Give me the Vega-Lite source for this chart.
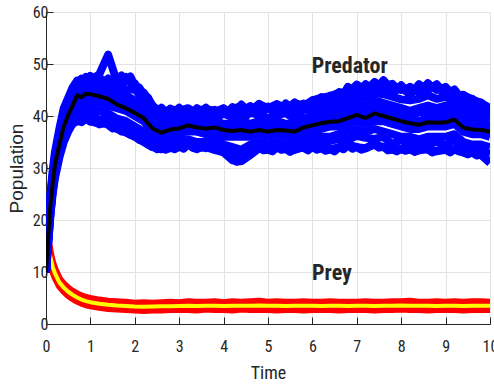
{
  "$schema": "https://vega.github.io/schema/vega-lite/v6.json",
  "width": 444,
  "height": 312,
  "autosize": {"type": "none"},
  "padding": {"left": 46, "top": 12, "right": 4, "bottom": 60},
  "background": "white",
  "datasets": {
    "runs": [
      {"t":0,"m":10,"p1":10,"p2":10,"p3":10,"p4":10,"p5":10,"p6":10,"p7":10,"p8":10,"p9":10,"p10":10,"p11":10,"q":20,"r1":20,"r2":20,"r3":20},
      {"t":0.05,"m":17,"p1":18.5,"p2":18,"p3":17.5,"p4":17,"p5":16.5,"p6":16,"p7":15.5,"p8":17.8,"p9":17.2,"p10":16.7,"p11":15.7,"q":15.5,"r1":16.2,"r2":15.5,"r3":14.8},
      {"t":0.1,"m":23,"p1":25,"p2":24.5,"p3":23.5,"p4":23,"p5":22.5,"p6":21.5,"p7":21,"p8":24,"p9":23.2,"p10":22.8,"p11":21.2,"q":12.8,"r1":13.6,"r2":12.8,"r3":12.0},
      {"t":0.15,"m":27,"p1":29.5,"p2":28.5,"p3":28,"p4":27,"p5":26.5,"p6":26,"p7":25,"p8":28.2,"p9":27.5,"p10":26.8,"p11":25.5,"q":11,"r1":11.8,"r2":11,"r3":10.2},
      {"t":0.2,"m":30.5,"p1":33,"p2":32,"p3":31.5,"p4":30.5,"p5":30,"p6":29,"p7":28,"p8":31.8,"p9":31,"p10":30.2,"p11":28.5,"q":9.8,"r1":10.6,"r2":9.8,"r3":9.0},
      {"t":0.3,"m":34.5,"p1":37.5,"p2":36.5,"p3":35.5,"p4":34.5,"p5":34,"p6":33,"p7":32,"p8":36,"p9":35,"p10":34.2,"p11":32.5,"q":8,"r1":8.7,"r2":8.0,"r3":7.3},
      {"t":0.4,"m":38,"p1":41.5,"p2":40.5,"p3":39,"p4":38,"p5":37.5,"p6":36.5,"p7":35,"p8":39.8,"p9":38.5,"p10":37.7,"p11":35.8,"q":7,"r1":7.7,"r2":7.0,"r3":6.3},
      {"t":0.5,"m":40.2,"p1":43.5,"p2":42.5,"p3":41.5,"p4":40.5,"p5":39.5,"p6":38.5,"p7":37,"p8":42,"p9":41,"p10":40,"p11":37.7,"q":6.2,"r1":6.9,"r2":6.2,"r3":5.5},
      {"t":0.6,"m":42,"p1":45.5,"p2":44.5,"p3":43,"p4":42,"p5":41,"p6":40,"p7":38.5,"p8":43.8,"p9":42.5,"p10":41.5,"p11":39.2,"q":5.6,"r1":6.3,"r2":5.6,"r3":4.9},
      {"t":0.7,"m":44,"p1":46.8,"p2":45.5,"p3":44.5,"p4":43.5,"p5":42,"p6":40.5,"p7":39,"p8":45.6,"p9":43.5,"p10":43.2,"p11":39.4,"q":5.1,"r1":5.8,"r2":5.1,"r3":4.4},
      {"t":0.8,"m":43.6,"p1":46,"p2":47,"p3":45,"p4":44,"p5":42.5,"p6":41.5,"p7":39,"p8":45.5,"p9":44.8,"p10":43,"p11":40.5,"q":4.7,"r1":5.4,"r2":4.7,"r3":4.0},
      {"t":0.9,"m":44.3,"p1":47.5,"p2":46,"p3":45.5,"p4":44.5,"p5":43,"p6":42,"p7":39.5,"p8":46.3,"p9":44.5,"p10":44.2,"p11":40.5,"q":4.4,"r1":5.1,"r2":4.4,"r3":3.7},
      {"t":1.0,"m":44.2,"p1":47,"p2":47.7,"p3":46,"p4":44.5,"p5":43,"p6":41.5,"p7":39,"p8":46.5,"p9":45.6,"p10":43.4,"p11":40.6,"q":4.2,"r1":4.9,"r2":4.2,"r3":3.5},
      {"t":1.2,"m":43.8,"p1":48,"p2":46.5,"p3":45,"p4":43.5,"p5":42.5,"p6":41,"p7":38.5,"p8":46.2,"p9":43.8,"p10":43.3,"p11":39.2,"q":3.9,"r1":4.6,"r2":3.9,"r3":3.2},
      {"t":1.4,"m":43.3,"p1":51.8,"p2":47,"p3":45.5,"p4":44,"p5":42,"p6":40.5,"p7":38.5,"p8":45.8,"p9":45.2,"p10":42.5,"p11":39.8,"q":3.7,"r1":4.4,"r2":3.7,"r3":3.0},
      {"t":1.6,"m":42.2,"p1":46.5,"p2":45.5,"p3":44,"p4":43,"p5":41.5,"p6":39.5,"p7":37.5,"p8":45.3,"p9":43,"p10":42.6,"p11":38.2,"q":3.55,"r1":4.3,"r2":3.6,"r3":2.9},
      {"t":1.8,"m":41.5,"p1":47.5,"p2":46.8,"p3":44,"p4":42.5,"p5":41,"p6":39,"p7":36.8,"p8":45,"p9":43.6,"p10":41.3,"p11":38.3,"q":3.45,"r1":4.2,"r2":3.4,"r3":2.8},
      {"t":2.0,"m":40.6,"p1":45.5,"p2":46.3,"p3":43,"p4":41.5,"p5":40,"p6":38,"p7":36,"p8":45.2,"p9":41.8,"p10":41.2,"p11":36.5,"q":3.35,"r1":4.0,"r2":3.4,"r3":2.7},
      {"t":2.2,"m":39.6,"p1":44.5,"p2":43,"p3":42,"p4":40.5,"p5":39,"p6":37,"p7":35,"p8":43,"p9":41.6,"p10":39.3,"p11":36.4,"q":3.3,"r1":4.1,"r2":3.3,"r3":2.6},
      {"t":2.4,"m":37.6,"p1":42,"p2":41,"p3":39.5,"p4":38,"p5":37,"p6":35.5,"p7":34,"p8":40.8,"p9":38.3,"p10":37.9,"p11":34.3,"q":3.35,"r1":4.0,"r2":3.4,"r3":2.7},
      {"t":2.6,"m":36.8,"p1":40.5,"p2":41,"p3":38.5,"p4":37.5,"p5":36,"p6":35,"p7":33.6,"p8":39.2,"p9":38.4,"p10":36.3,"p11":34.8,"q":3.4,"r1":4.1,"r2":3.3,"r3":2.7},
      {"t":2.8,"m":37.4,"p1":41.3,"p2":40,"p3":39,"p4":37.5,"p5":36.5,"p6":35,"p7":33.8,"p8":40.1,"p9":37.8,"p10":37.3,"p11":34,"q":3.4,"r1":4.2,"r2":3.4,"r3":2.8},
      {"t":3.0,"m":37.6,"p1":41,"p2":40.5,"p3":39,"p4":38,"p5":36.8,"p6":35.5,"p7":34,"p8":39.3,"p9":38.9,"p10":36.9,"p11":35.2,"q":3.45,"r1":4.1,"r2":3.5,"r3":2.8},
      {"t":3.2,"m":38.2,"p1":41.5,"p2":40.3,"p3":39.5,"p4":38.5,"p5":37,"p6":35.5,"p7":34.5,"p8":40.4,"p9":38.4,"p10":38.2,"p11":34.6,"q":3.5,"r1":4.3,"r2":3.4,"r3":2.8},
      {"t":3.4,"m":37.8,"p1":40.5,"p2":41.3,"p3":39,"p4":38,"p5":37,"p6":35,"p7":33.8,"p8":39.6,"p9":38.9,"p10":37,"p11":34.9,"q":3.45,"r1":4.2,"r2":3.5,"r3":2.7},
      {"t":3.6,"m":37.6,"p1":41.3,"p2":40,"p3":38.5,"p4":37.5,"p5":36.5,"p6":35,"p7":34,"p8":39.8,"p9":37.5,"p10":37.5,"p11":34,"q":3.5,"r1":4.2,"r2":3.5,"r3":2.9},
      {"t":3.8,"m":37.8,"p1":41,"p2":40.8,"p3":39,"p4":38,"p5":37,"p6":35.5,"p7":33.5,"p8":39.4,"p9":38.9,"p10":37.2,"p11":34.8,"q":3.5,"r1":4.3,"r2":3.4,"r3":2.8},
      {"t":4.0,"m":37.3,"p1":40.5,"p2":41.5,"p3":38.5,"p4":37.5,"p5":36,"p6":34.5,"p7":33,"p8":40.5,"p9":37.6,"p10":37.3,"p11":33.3,"q":3.45,"r1":4.1,"r2":3.5,"r3":2.8},
      {"t":4.2,"m":37.1,"p1":41.3,"p2":40,"p3":38.5,"p4":37.5,"p5":36,"p6":34,"p7":31.5,"p8":39.7,"p9":38.3,"p10":36.2,"p11":33.2,"q":3.5,"r1":4.3,"r2":3.5,"r3":2.7},
      {"t":4.4,"m":37.3,"p1":42,"p2":40.5,"p3":39,"p4":37.5,"p5":36,"p6":33.5,"p7":31.3,"p8":39.3,"p9":38.6,"p10":37.2,"p11":32.2,"q":3.5,"r1":4.2,"r2":3.5,"r3":2.9},
      {"t":4.6,"m":37.0,"p1":41,"p2":41.8,"p3":38.5,"p4":37,"p5":36,"p6":34.5,"p7":32.5,"p8":40.6,"p9":37.2,"p10":36.8,"p11":33.8,"q":3.5,"r1":4.3,"r2":3.4,"r3":2.8},
      {"t":4.8,"m":37.3,"p1":42.3,"p2":40.5,"p3":39,"p4":37.5,"p5":36.5,"p6":35,"p7":33.8,"p8":40.2,"p9":37.9,"p10":37.4,"p11":34,"q":3.55,"r1":4.4,"r2":3.5,"r3":2.8},
      {"t":5.0,"m":37.0,"p1":41.5,"p2":41.5,"p3":38.5,"p4":37,"p5":36,"p6":34.5,"p7":33.5,"p8":39.6,"p9":38.1,"p10":36.2,"p11":34.3,"q":3.5,"r1":4.2,"r2":3.5,"r3":2.8},
      {"t":5.2,"m":37.3,"p1":42.3,"p2":40.5,"p3":39,"p4":37.5,"p5":36.5,"p6":35,"p7":34,"p8":40.1,"p9":37.8,"p10":37.3,"p11":34.2,"q":3.5,"r1":4.3,"r2":3.5,"r3":2.7},
      {"t":5.4,"m":37.2,"p1":41.5,"p2":42,"p3":38.5,"p4":37.5,"p5":36,"p6":34.5,"p7":33.6,"p8":40.6,"p9":38.3,"p10":36.4,"p11":33.8,"q":3.45,"r1":4.2,"r2":3.4,"r3":2.8},
      {"t":5.6,"m":37.0,"p1":42.5,"p2":41,"p3":38.5,"p4":37,"p5":36,"p6":35,"p7":33.5,"p8":39.4,"p9":38.1,"p10":36.8,"p11":34.6,"q":3.5,"r1":4.2,"r2":3.5,"r3":2.8},
      {"t":5.8,"m":37.8,"p1":42,"p2":42.3,"p3":39.5,"p4":38,"p5":37,"p6":35.5,"p7":34,"p8":41.3,"p9":38.4,"p10":37.7,"p11":34.4,"q":3.5,"r1":4.3,"r2":3.5,"r3":2.7},
      {"t":6.0,"m":38.2,"p1":43,"p2":41.5,"p3":40,"p4":38.5,"p5":37,"p6":36,"p7":34,"p8":41,"p9":39.5,"p10":37.5,"p11":35.3,"q":3.5,"r1":4.2,"r2":3.5,"r3":2.8},
      {"t":6.2,"m":38.6,"p1":43.5,"p2":42.5,"p3":40.5,"p4":39,"p5":37.5,"p6":36,"p7":33.8,"p8":41.2,"p9":40,"p10":38,"p11":34.6,"q":3.45,"r1":4.2,"r2":3.4,"r3":2.8},
      {"t":6.4,"m":38.9,"p1":43.8,"p2":43,"p3":41,"p4":39.5,"p5":38,"p6":36,"p7":33.6,"p8":42.3,"p9":40,"p10":38.9,"p11":35.2,"q":3.5,"r1":4.3,"r2":3.5,"r3":2.8},
      {"t":6.6,"m":39.0,"p1":44.5,"p2":43,"p3":41.5,"p4":39.5,"p5":38,"p6":36.5,"p7":34,"p8":41.9,"p9":41,"p10":38.4,"p11":35.6,"q":3.5,"r1":4.2,"r2":3.5,"r3":2.7},
      {"t":6.8,"m":39.6,"p1":44.5,"p2":45.5,"p3":42,"p4":40,"p5":38.5,"p6":37,"p7":34.5,"p8":43.5,"p9":40.5,"p10":39.6,"p11":35.4,"q":3.45,"r1":4.2,"r2":3.4,"r3":2.8},
      {"t":7.0,"m":40.2,"p1":46,"p2":44.5,"p3":42.5,"p4":40.5,"p5":39,"p6":37.5,"p7":34,"p8":43.8,"p9":41.2,"p10":39.5,"p11":36.2,"q":3.5,"r1":4.2,"r2":3.5,"r3":2.8},
      {"t":7.2,"m":39.6,"p1":45,"p2":46,"p3":42,"p4":40,"p5":38.5,"p6":37,"p7":33.8,"p8":43.6,"p9":41.4,"p10":38.8,"p11":35.8,"q":3.5,"r1":4.3,"r2":3.5,"r3":2.8},
      {"t":7.4,"m":40.5,"p1":46.5,"p2":45,"p3":43,"p4":41,"p5":39,"p6":37.5,"p7":34.5,"p8":44.4,"p9":41.6,"p10":40.3,"p11":35.6,"q":3.45,"r1":4.2,"r2":3.4,"r3":2.7},
      {"t":7.6,"m":40.0,"p1":45.5,"p2":46.8,"p3":42.5,"p4":40.5,"p5":39,"p6":37,"p7":34,"p8":44.2,"p9":41.9,"p10":39.2,"p11":36,"q":3.5,"r1":4.2,"r2":3.5,"r3":2.8},
      {"t":7.8,"m":39.5,"p1":46,"p2":44.5,"p3":42,"p4":40,"p5":38.5,"p6":36.5,"p7":33.5,"p8":43.7,"p9":40.6,"p10":39.6,"p11":34.6,"q":3.5,"r1":4.3,"r2":3.5,"r3":2.8},
      {"t":8.0,"m":39.0,"p1":45,"p2":45.8,"p3":41.5,"p4":39.5,"p5":38,"p6":36,"p7":33.6,"p8":43.2,"p9":41,"p10":38.3,"p11":35.4,"q":3.55,"r1":4.3,"r2":3.5,"r3":2.9},
      {"t":8.2,"m":38.6,"p1":45.5,"p2":44,"p3":41,"p4":39,"p5":37.5,"p6":36,"p7":33.5,"p8":43,"p9":39.6,"p10":38.6,"p11":34.3,"q":3.5,"r1":4.4,"r2":3.5,"r3":2.8},
      {"t":8.4,"m":38.3,"p1":44.5,"p2":46,"p3":41.5,"p4":39,"p5":37.5,"p6":35.5,"p7":33.4,"p8":43.3,"p9":40.8,"p10":37.8,"p11":35,"q":3.5,"r1":4.2,"r2":3.5,"r3":2.8},
      {"t":8.6,"m":38.8,"p1":46.2,"p2":45,"p3":42,"p4":39.5,"p5":38,"p6":36,"p7":33.6,"p8":44,"p9":40.3,"p10":39.2,"p11":34.4,"q":3.5,"r1":4.2,"r2":3.5,"r3":2.7},
      {"t":8.8,"m":38.7,"p1":45,"p2":46,"p3":41.5,"p4":39.5,"p5":38,"p6":36,"p7":33.2,"p8":43.3,"p9":41,"p10":38.3,"p11":35.1,"q":3.45,"r1":4.3,"r2":3.4,"r3":2.8},
      {"t":9.0,"m":38.8,"p1":45.5,"p2":44.5,"p3":42,"p4":40,"p5":38,"p6":36,"p7":33.5,"p8":43.7,"p9":40.5,"p10":39.4,"p11":34.3,"q":3.5,"r1":4.2,"r2":3.5,"r3":2.8},
      {"t":9.2,"m":39.3,"p1":44,"p2":45,"p3":42.5,"p4":40,"p5":38.5,"p6":36.5,"p7":33.6,"p8":43.3,"p9":41.8,"p10":38.8,"p11":35.5,"q":3.5,"r1":4.3,"r2":3.5,"r3":2.8},
      {"t":9.4,"m":37.8,"p1":44,"p2":43,"p3":41,"p4":38.5,"p5":37,"p6":35,"p7":33,"p8":42.5,"p9":39.3,"p10":38.2,"p11":33.6,"q":3.45,"r1":4.2,"r2":3.4,"r3":2.7},
      {"t":9.6,"m":37.4,"p1":43.2,"p2":42.5,"p3":40.5,"p4":38,"p5":36.5,"p6":34.5,"p7":33,"p8":41.1,"p9":39.7,"p10":36.8,"p11":34.2,"q":3.5,"r1":4.3,"r2":3.5,"r3":2.8},
      {"t":9.8,"m":37.3,"p1":42.5,"p2":41.5,"p3":40,"p4":38,"p5":36.5,"p6":34.5,"p7":32.5,"p8":41.2,"p9":38.6,"p10":37.6,"p11":33.1,"q":3.5,"r1":4.3,"r2":3.5,"r3":2.8},
      {"t":10.0,"m":37.0,"p1":41.5,"p2":41,"p3":39.5,"p4":37.5,"p5":36,"p6":34,"p7":31,"p8":40,"p9":38.8,"p10":36.2,"p11":32.8,"q":3.5,"r1":4.2,"r2":3.5,"r3":2.8}
    ],
    "edges": [
      {"t":0.7,"u":46.5,"l":39.2},{"t":0.8,"u":47.2,"l":38.8},{"t":0.9,"u":46.4,"l":39.5},{"t":1.0,"u":47.6,"l":38.9},
      {"t":1.1,"u":46.8,"l":39.3},{"t":1.2,"u":47.5,"l":38.4},{"t":1.3,"u":46.5,"l":39.0},{"t":1.4,"u":47.2,"l":38.3},
      {"t":1.5,"u":46.0,"l":37.6},{"t":1.6,"u":46.8,"l":37.9},{"t":1.7,"u":47.8,"l":37.0},{"t":1.8,"u":46.6,"l":37.2},
      {"t":1.9,"u":47.6,"l":36.4},{"t":2.0,"u":45.8,"l":36.2},{"t":2.1,"u":45.5,"l":35.4},{"t":2.2,"u":44.0,"l":35.3},
      {"t":2.3,"u":43.5,"l":34.5},{"t":2.4,"u":41.8,"l":34.3},{"t":2.5,"u":41.0,"l":33.6},{"t":2.6,"u":41.6,"l":34.0},
      {"t":2.7,"u":40.6,"l":33.5},{"t":2.8,"u":41.4,"l":34.1},{"t":2.9,"u":40.8,"l":33.6},{"t":3.0,"u":41.6,"l":34.2},
      {"t":3.1,"u":40.7,"l":33.7},{"t":3.2,"u":41.3,"l":34.6},{"t":3.3,"u":40.4,"l":33.9},{"t":3.4,"u":41.5,"l":33.6},
      {"t":3.5,"u":41.0,"l":34.2},{"t":3.6,"u":41.6,"l":33.8},{"t":3.7,"u":40.8,"l":34.3},{"t":3.8,"u":41.2,"l":33.5},
      {"t":3.9,"u":40.5,"l":33.9},{"t":4.0,"u":41.4,"l":33.1},{"t":4.1,"u":40.9,"l":32.4},{"t":4.2,"u":41.7,"l":31.6},
      {"t":4.3,"u":41.0,"l":31.2},{"t":4.4,"u":42.2,"l":31.4},{"t":4.5,"u":41.3,"l":32.0},{"t":4.6,"u":41.9,"l":32.6},
      {"t":4.7,"u":41.0,"l":33.3},{"t":4.8,"u":42.3,"l":33.9},{"t":4.9,"u":41.4,"l":33.4},{"t":5.0,"u":41.8,"l":33.6},
      {"t":5.1,"u":40.9,"l":33.2},{"t":5.2,"u":42.2,"l":34.0},{"t":5.3,"u":41.5,"l":33.5},{"t":5.4,"u":42.4,"l":33.7},
      {"t":5.5,"u":41.6,"l":33.1},{"t":5.6,"u":42.6,"l":33.6},{"t":5.7,"u":41.8,"l":34.1},{"t":5.8,"u":42.4,"l":33.9},
      {"t":5.9,"u":42.0,"l":33.4},{"t":6.0,"u":43.0,"l":34.1},{"t":6.1,"u":42.5,"l":33.5},{"t":6.2,"u":43.6,"l":33.8},
      {"t":6.3,"u":42.8,"l":33.3},{"t":6.4,"u":43.9,"l":33.6},{"t":6.5,"u":43.5,"l":33.2},{"t":6.6,"u":44.6,"l":34.0},
      {"t":6.7,"u":44.0,"l":33.6},{"t":6.8,"u":45.6,"l":34.4},{"t":6.9,"u":44.8,"l":33.7},{"t":7.0,"u":46.0,"l":34.1},
      {"t":7.1,"u":45.2,"l":33.5},{"t":7.2,"u":46.1,"l":33.8},{"t":7.3,"u":45.4,"l":34.3},{"t":7.4,"u":46.5,"l":34.5},
      {"t":7.5,"u":45.8,"l":33.9},{"t":7.6,"u":46.9,"l":34.1},{"t":7.7,"u":45.9,"l":33.4},{"t":7.8,"u":46.2,"l":33.6},
      {"t":7.9,"u":45.0,"l":33.2},{"t":8.0,"u":45.9,"l":33.7},{"t":8.1,"u":44.8,"l":33.3},{"t":8.2,"u":45.6,"l":33.6},
      {"t":8.3,"u":45.0,"l":33.1},{"t":8.4,"u":46.1,"l":33.4},{"t":8.5,"u":45.4,"l":33.8},{"t":8.6,"u":46.3,"l":33.6},
      {"t":8.7,"u":45.5,"l":33.0},{"t":8.8,"u":46.1,"l":33.3},{"t":8.9,"u":44.9,"l":33.7},{"t":9.0,"u":45.6,"l":33.5},
      {"t":9.1,"u":44.5,"l":33.0},{"t":9.2,"u":45.1,"l":33.6},{"t":9.3,"u":43.9,"l":33.2},{"t":9.4,"u":44.1,"l":33.0},
      {"t":9.5,"u":43.2,"l":32.6},{"t":9.6,"u":43.3,"l":33.0},{"t":9.7,"u":42.4,"l":32.4},{"t":9.8,"u":42.6,"l":32.6},
      {"t":9.9,"u":41.5,"l":31.8},{"t":10.0,"u":41.6,"l":31.0}
    ],
    "labels": [
      {"t": 6.84, "v": 48.3, "label": "Predator"},
      {"t": 6.44, "v": 8.5, "label": "Prey"}
    ]
  },
  "encoding": {
    "x": {
      "field": "t", "type": "quantitative",
      "scale": {"domain": [0, 10], "nice": false, "zero": false},
      "axis": {"title": "Time", "values": [0,1,2,3,4,5,6,7,8,9,10], "format": "d"}
    },
    "y": {
      "field": "v", "type": "quantitative",
      "scale": {"domain": [0, 60], "nice": false},
      "axis": {"title": "Population", "values": [0,10,20,30,40,50,60], "format": "d"}
    }
  },
  "layer": [
    {
      "data": {"name": "runs"},
      "transform": [{"fold": ["r1","r2","r3"], "as": ["run","v"]}],
      "mark": {"type": "line", "color": "#ff0000", "strokeWidth": 7, "strokeJoin": "round", "clip": true},
      "encoding": {"detail": {"field": "run"}}
    },
    {
      "data": {"name": "runs"},
      "transform": [{"fold": ["q"], "as": ["run","v"]}],
      "mark": {"type": "line", "color": "#ffff00", "strokeWidth": 4, "strokeJoin": "round", "clip": true},
      "encoding": {"detail": {"field": "run"}}
    },
    {
      "data": {"name": "runs"},
      "transform": [{"fold": ["p1","p2","p3","p4","p5","p6","p7","p8","p9","p10","p11"], "as": ["run","v"]}],
      "mark": {"type": "line", "color": "#0000ff", "strokeWidth": 8, "strokeJoin": "round", "clip": true},
      "encoding": {"detail": {"field": "run"}}
    },
    {
      "data": {"name": "edges"},
      "transform": [{"fold": ["u","l"], "as": ["run","v"]}],
      "mark": {"type": "line", "color": "#0000ff", "strokeWidth": 8, "strokeJoin": "round", "clip": true},
      "encoding": {"detail": {"field": "run"}}
    },
    {
      "data": {"name": "runs"},
      "transform": [{"fold": ["m"], "as": ["run","v"]}],
      "mark": {"type": "line", "color": "#000000", "strokeWidth": 4, "strokeJoin": "round", "clip": true},
      "encoding": {"detail": {"field": "run"}}
    },
    {
      "data": {"name": "labels"},
      "mark": {"type": "text", "font": "Liberation Sans Narrow, Roboto Condensed, DejaVu Sans Condensed, Liberation Sans", "fontWeight": "bold", "fontSize": 22, "color": "#262626", "align": "center", "baseline": "alphabetic"},
      "encoding": {"text": {"field": "label"}}
    }
  ],
  "config": {
    "view": {"stroke": null},
    "axis": {
      "domainColor": "#262626", "domainWidth": 1,
      "tickColor": "#262626", "tickSize": -7, "tickWidth": 1,
      "gridColor": "#e3e3e3", "gridWidth": 1,
      "labelColor": "#262626", "labelFont": "Liberation Sans Narrow, Roboto Condensed, DejaVu Sans Condensed, Liberation Sans",
      "labelFontSize": 16, "labelFlush": false, "labelOverlap": false, "labelBound": false,
      "titleColor": "#262626", "titleFontWeight": "normal"
    },
    "axisX": {"labelPadding": 21, "titleFont": "Liberation Sans Narrow, Roboto Condensed, DejaVu Sans Condensed, Liberation Sans", "titleFontSize": 18, "titlePadding": 10},
    "axisY": {"labelPadding": 5, "titleFont": "Liberation Sans, Arial, sans-serif", "titleFontSize": 19, "titlePadding": 6}
  }
}
